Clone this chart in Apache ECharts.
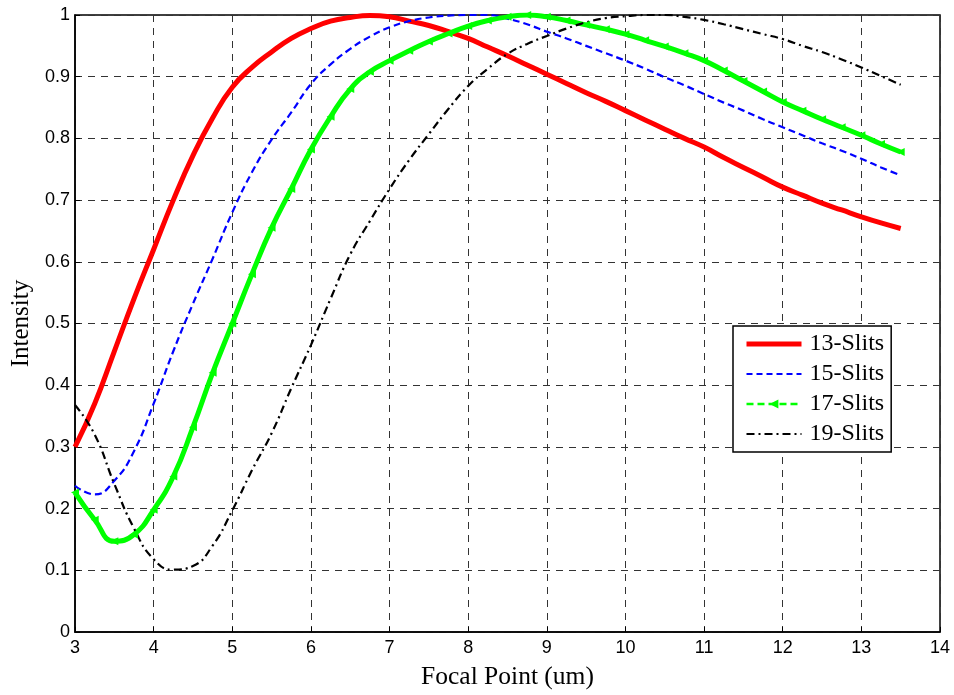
<!DOCTYPE html>
<html>
<head>
<meta charset="utf-8">
<script src="https://cdn.jsdelivr.net/npm/echarts@6/dist/echarts.min.js"></script>
<style>
html,body{margin:0;padding:0;background:#fff;}
#chart{width:954px;height:695px;}
</style>
</head>
<body>
<div id="chart"></div>
<script>
// Focal point positions (um)
var focal = [3, 3.25, 3.5, 3.75, 4, 4.25, 4.5, 4.75, 5, 5.25, 5.5, 5.75, 6, 6.25, 6.5, 6.75, 7, 7.25, 7.5, 7.75, 8, 8.25, 8.5, 8.75, 9, 9.25, 9.5, 9.75, 10, 10.25, 10.5, 10.75, 11, 11.25, 11.5, 11.75, 12, 12.25, 12.5, 12.75, 13, 13.25, 13.5];

var slits13 = [0.300, 0.370, 0.455, 0.540, 0.620, 0.700, 0.772, 0.833, 0.883, 0.915, 0.940, 0.962, 0.978, 0.990, 0.996, 0.999, 0.997, 0.990, 0.983, 0.973, 0.962, 0.948, 0.934, 0.919, 0.904, 0.889, 0.874, 0.860, 0.845, 0.830, 0.815, 0.800, 0.786, 0.769, 0.753, 0.737, 0.721, 0.708, 0.695, 0.684, 0.673, 0.663, 0.654];

var slits15 = [0.237, 0.223, 0.245, 0.293, 0.370, 0.455, 0.532, 0.605, 0.680, 0.745, 0.798, 0.842, 0.888, 0.920, 0.945, 0.965, 0.980, 0.990, 0.996, 0.999, 1.000, 1.000, 0.994, 0.985, 0.973, 0.962, 0.950, 0.938, 0.926, 0.913, 0.899, 0.886, 0.872, 0.858, 0.845, 0.831, 0.818, 0.805, 0.792, 0.780, 0.767, 0.753, 0.740];

var slits17 = [0.226, 0.182, 0.147, 0.158, 0.198, 0.252, 0.332, 0.420, 0.500, 0.580, 0.655, 0.718, 0.782, 0.835, 0.880, 0.908, 0.926, 0.942, 0.957, 0.970, 0.982, 0.991, 0.997, 1.000, 0.997, 0.991, 0.984, 0.977, 0.969, 0.959, 0.949, 0.938, 0.926, 0.910, 0.893, 0.876, 0.859, 0.845, 0.831, 0.818, 0.805, 0.791, 0.778];

var slits19 = [0.368, 0.320, 0.240, 0.168, 0.118, 0.101, 0.107, 0.140, 0.197, 0.262, 0.322, 0.395, 0.465, 0.540, 0.612, 0.666, 0.718, 0.765, 0.807, 0.848, 0.885, 0.913, 0.937, 0.953, 0.966, 0.978, 0.988, 0.995, 0.998, 1.000, 1.000, 0.997, 0.992, 0.985, 0.977, 0.969, 0.961, 0.950, 0.940, 0.928, 0.915, 0.901, 0.887];

var seriesNames = ['13-Slits', '15-Slits', '17-Slits', '19-Slits'];

function pairs(ys) {
  return focal.map(function (x, i) { return [x, ys[i]]; });
}

var chart = echarts.init(document.getElementById('chart'), null, {renderer: 'canvas'});
var tickFont = {color: '#000', fontFamily: '"Liberation Sans", Arial, sans-serif', fontSize: 18};
var serif = '"Liberation Serif", "Times New Roman", serif';

chart.setOption({
  animation: false,
  backgroundColor: '#fff',
  grid: {left: 75, right: 14, top: 15, bottom: 62, show: true, borderColor: '#000', borderWidth: 1.5, backgroundColor: 'transparent'},
  xAxis: {
    type: 'value', min: 3, max: 14, interval: 1,
    name: 'Focal Point (um)', nameLocation: 'middle', nameGap: 32,
    nameTextStyle: {color: '#000', fontFamily: serif, fontSize: 25.5},
    axisLine: {show: true, lineStyle: {color: '#000', width: 1.5}},
    axisTick: {show: true, inside: true, length: 5, lineStyle: {color: '#000'}},
    axisLabel: Object.assign({margin: 7}, tickFont),
    splitLine: {show: true, lineStyle: {color: '#333', width: 1, type: [7, 6]}}
  },
  yAxis: {
    type: 'value', min: 0, max: 1, interval: 0.1,
    name: 'Intensity', nameLocation: 'middle', nameGap: 39,
    nameTextStyle: {color: '#000', fontFamily: serif, fontSize: 25},
    axisLine: {show: true, lineStyle: {color: '#000', width: 1.5}},
    axisTick: {show: true, inside: true, length: 5, lineStyle: {color: '#000'}},
    axisLabel: Object.assign({margin: 5}, tickFont),
    splitLine: {show: true, lineStyle: {color: '#333', width: 1, type: [7, 6]}}
  },
  legend: {
    left: 733, top: 326, orient: 'vertical',
    backgroundColor: '#fff', borderColor: '#000', borderWidth: 1.5,
    padding: [6, 7, 6, 11], itemGap: 6, itemWidth: 55, itemHeight: 11,
    textStyle: {color: '#000', fontFamily: serif, fontSize: 24, padding: [0, 0, 0, 3], height: 24, lineHeight: 24},
    data: [
      {name: seriesNames[0], itemStyle: {opacity: 0}, lineStyle: {width: 5}},
      {name: seriesNames[1], itemStyle: {opacity: 0}, lineStyle: {width: 2.2, type: [6, 4]}},
      {name: seriesNames[2], lineStyle: {type: [7, 4], width: 2.5}},
      {name: seriesNames[3], itemStyle: {opacity: 0}, lineStyle: {width: 2.2, type: [8, 4, 2, 4]}}
    ]
  },
  series: [
    {name: seriesNames[0], type: 'line', smooth: true, symbol: 'none', data: pairs(slits13),
     lineStyle: {color: '#ff0000', width: 5}, itemStyle: {color: '#ff0000'}},
    {name: seriesNames[1], type: 'line', smooth: true, symbol: 'none', data: pairs(slits15),
     lineStyle: {color: '#0000ff', width: 2.2, type: [7, 4]}, itemStyle: {color: '#0000ff'}},
    {name: seriesNames[2], type: 'line', smooth: true, symbol: 'triangle', symbolRotate: 90, symbolSize: 8, showSymbol: true,
     data: pairs(slits17),
     lineStyle: {color: '#00ff00', width: 5}, itemStyle: {color: '#00ff00'}},
    {name: seriesNames[3], type: 'line', smooth: true, symbol: 'none', data: pairs(slits19),
     lineStyle: {color: '#000', width: 2.2, type: [8, 4, 2, 4]}, itemStyle: {color: '#000'}}
  ]
});
</script>
</body>
</html>
